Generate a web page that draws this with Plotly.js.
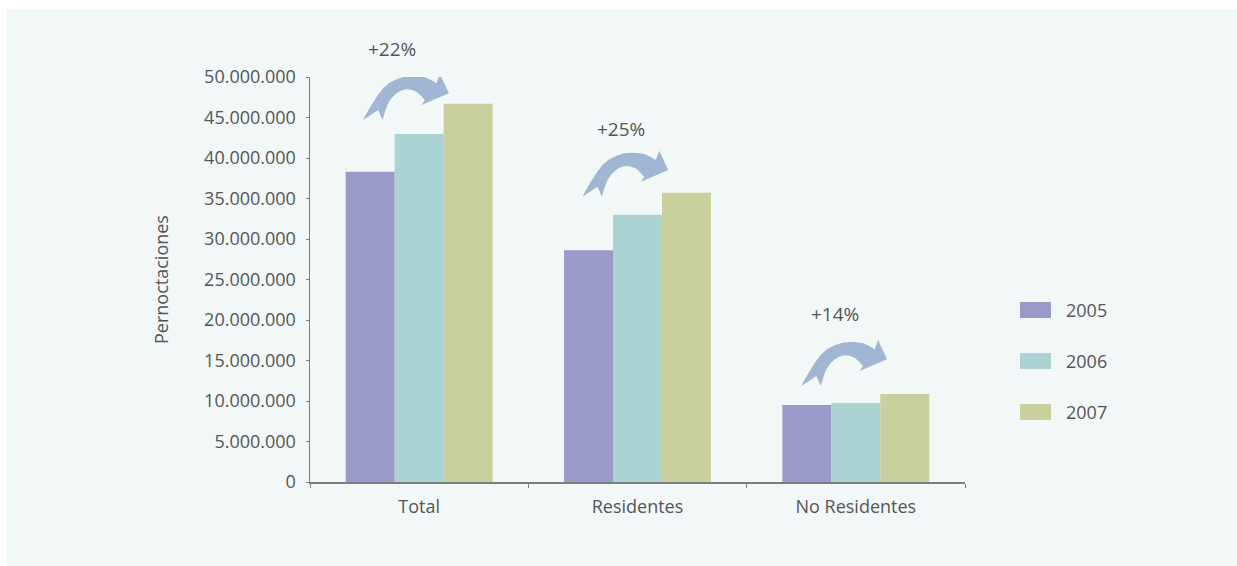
<!DOCTYPE html>
<html>
<head>
<meta charset="utf-8">
<script src="https://cdn.plot.ly/plotly-3.0.1.min.js"></script>
<style>
html,body{margin:0;padding:0;background:#ffffff;}
#chart{position:absolute;left:7px;top:9px;width:1230px;height:557px;}
</style>
</head>
<body>
<div id="chart"></div>
<script>
// ---- data ----
const categories = ['Total', 'Residentes', 'No Residentes'];
const years = ['2005', '2006', '2007'];
const values2005 = [38300000, 28600000, 9500000];
const values2006 = [42950000, 33000000, 9750000];
const values2007 = [46700000, 35700000, 10850000];
const growthLabels = ['+22%', '+25%', '+14%'];
const yTickVals = [0, 5000000, 10000000, 15000000, 20000000, 25000000, 30000000, 35000000, 40000000, 45000000, 50000000];
const yTickText = ['0', '5.000.000', '10.000.000', '15.000.000', '20.000.000', '25.000.000', '30.000.000', '35.000.000', '40.000.000', '45.000.000', '50.000.000'];

// ---- styles ----
const colors = ['#9a9ac8', '#acd3d4', '#cad09d'];
const arrowColor = 'rgb(160,182,210)';
const textColor = '#555555';
const fontFamily = '"Open Sans", "Noto Sans", sans-serif';
const seriesValues = [values2005, values2006, values2007];

const traces = years.map((yr, i) => ({
  type: 'bar',
  name: yr,
  x: categories,
  y: seriesValues[i],
  marker: {color: colors[i], line: {width: 0}},
  hoverinfo: 'x+y+name',
  showlegend: false
}));

// plot area on the page: x 310..965 px, y 77..482 px
const plotL = 310, plotW = 655, plotB = 482, plotH = 405;

// arrow outline in screen pixels relative to its tail (y down)
const arrowPts = [
  [0,0],[3,-6],[8.4,-15],[14,-24],[20,-31.7],[26,-37],[33.4,-40.7],[41,-43.3],[48.4,-44],[55,-43.8],[61.7,-42.7],[68,-40],[73.4,-36.7],
  [76.7,-46],[85.7,-26.7],[58.4,-15],[61.7,-20],[57.5,-24.5],[53.4,-28.3],[48,-30.3],[43.4,-30.7],[38,-29.5],[33.4,-26.7],[28.5,-22],[25,-16.7],[22,-9],[19.4,0],[15,-10]
];
function arrowPath(dx) {
  return 'M' + arrowPts.map(p => (p[0] + dx).toFixed(1) + ',' + (-p[1]).toFixed(1)).join('L') + 'Z';
}
// arrow tail anchors (pixel offset from category centre, value on y axis)
const arrowAnchors = [
  {dx: -56, y: 44690000},
  {dx: -55, y: 35220000},
  {dx: -54.5, y: 11850000}
];
// label centres in page pixels
const labelPos = [[392, 49], [620.7, 129], [835, 313.7]];

const shapes = [];
const annotations = [];
categories.forEach((c, i) => {
  const a = arrowAnchors[i];
  shapes.push({
    type: 'path', xref: 'x', yref: 'y',
    xsizemode: 'pixel', ysizemode: 'pixel',
    xanchor: i, yanchor: a.y,
    path: arrowPath(a.dx),
    fillcolor: arrowColor, line: {width: 0}, layer: 'above'
  });
  const l = labelPos[i];
  annotations.push({
    xref: 'paper', yref: 'paper',
    x: (l[0] - plotL) / plotW, y: (plotB - l[1]) / plotH,
    xanchor: 'center', yanchor: 'middle',
    text: growthLabels[i], showarrow: false,
    font: {family: fontFamily, size: 19, color: textColor}
  });
});

// custom legend
years.forEach((yr, i) => {
  const cy = 310 + i * 51;
  shapes.push({
    type: 'rect', xref: 'paper', yref: 'paper',
    x0: (1020 - plotL) / plotW, x1: (1051 - plotL) / plotW,
    y0: (plotB - (cy + 8)) / plotH, y1: (plotB - (cy - 8)) / plotH,
    fillcolor: colors[i], line: {width: 0}
  });
  annotations.push({
    xref: 'paper', yref: 'paper',
    x: (1064 - plotL) / plotW, y: (plotB - cy) / plotH,
    xanchor: 'left', yanchor: 'middle',
    text: yr, showarrow: false,
    font: {family: fontFamily, size: 18, color: textColor}
  });
});

const layout = {
  width: 1230, height: 557,
  margin: {l: 303, r: 272, t: 68, b: 84},
  paper_bgcolor: '#f2f8f8',
  plot_bgcolor: '#f2f8f8',
  barmode: 'group',
  bargap: 0.327,
  bargroupgap: 0,
  showlegend: false,
  font: {family: fontFamily, color: textColor},
  xaxis: {
    type: 'category',
    showline: true, linecolor: '#7d7d7d', linewidth: 1.5,
    ticks: 'outside', tickson: 'boundaries', ticklen: 4, tickcolor: '#7d7d7d', tickwidth: 1,
    showgrid: false, zeroline: false,
    tickfont: {family: fontFamily, size: 18, color: textColor},
    ticklabelstandoff: 8
  },
  yaxis: {
    range: [0, 50000000],
    showline: true, linecolor: '#7d7d7d', linewidth: 1.5,
    ticks: 'outside', ticklen: 3, tickcolor: '#7d7d7d', tickwidth: 1,
    tickvals: yTickVals, ticktext: yTickText,
    showgrid: false, zeroline: false,
    tickfont: {family: fontFamily, size: 18, color: textColor},
    ticklabelstandoff: 6,
    title: {text: 'Pernoctaciones', font: {family: fontFamily, size: 18, color: textColor}, standoff: 31}
  },
  shapes: shapes,
  annotations: annotations
};

Plotly.newPlot('chart', traces, layout, {displayModeBar: false, staticPlot: true});
</script>
</body>
</html>
